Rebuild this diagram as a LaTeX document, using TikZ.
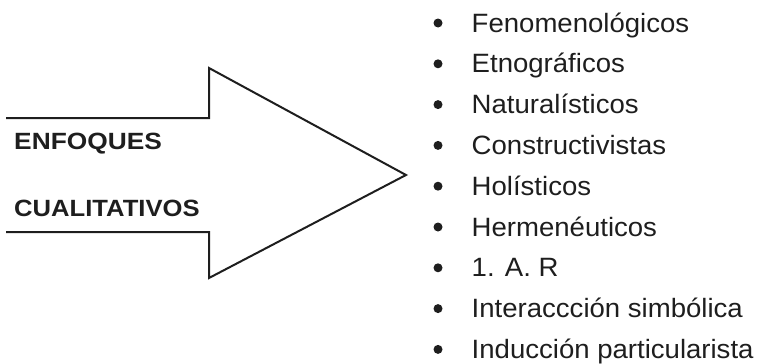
\documentclass[tikz,border=0pt]{standalone}
\usepackage{fontspec}
\setmainfont{Liberation Sans}
\definecolor{ink}{HTML}{1E1E1E}
\begin{document}
\begin{tikzpicture}[x=1pt,y=-1pt,
  item/.style={anchor=base west,inner sep=0pt,text=ink,font=\fontsize{26.5}{30}\selectfont},
  dot/.style={circle,fill=ink,inner sep=0pt,minimum size=9pt},
  title/.style={anchor=base west,inner sep=0pt,text=ink,font=\fontsize{23.5}{28}\selectfont\bfseries}]
\useasboundingbox (0,0) rectangle (763,364);
\draw[line width=2pt,ink,line join=miter] (6,118) -- (209,118) -- (209,68) -- (406,175) -- (209,278) -- (209,232) -- (6,232);
\node[title] (t1) at (14,149.5) {\scalebox{1.12}[1]{ENFOQUES}};
\node[title] (t2) at (14,216.5) {\scalebox{1.09}[1]{CUALITATIVOS}};
\foreach \txt [count=\i from 0] in {Fenomenológicos,Etnográficos,Naturalísticos,Constructivistas,Holísticos,Hermenéuticos,1. A. R,Interaccción simbólica,Inducción particularista}{
  \node[dot] (b\i) at (438,23+40.8*\i) {};
  \node[item] (i\i) at (471.5,32+40.8*\i) {\scalebox{1.04}[1]{\txt}};
}
\end{tikzpicture}
\end{document}
